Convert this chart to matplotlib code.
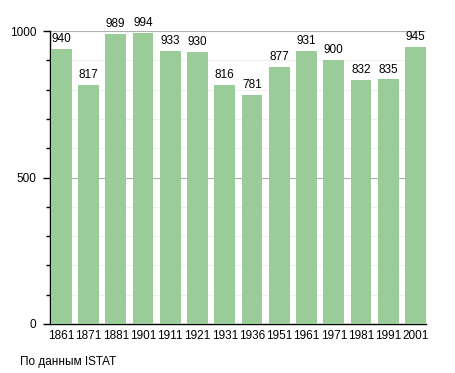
import matplotlib
matplotlib.use("Agg")
import matplotlib.pyplot as plt
from matplotlib.ticker import MultipleLocator

years = ["1861", "1871", "1881", "1901", "1911", "1921", "1931", "1936",
         "1951", "1961", "1971", "1981", "1991", "2001"]
population = [940, 817, 989, 994, 933, 930, 816, 781, 877, 931, 900, 832, 835, 945]
source_note = "По данным ISTAT"

plt.rcParams['font.family'] = ['Liberation Sans', 'DejaVu Sans']

fig = plt.figure(figsize=(4.55, 3.73), dpi=100)
ax = fig.add_axes([50/455, 49/373, 376/455, 293/373])

w = 0.76
x = list(range(len(years)))
bars = ax.bar(x, population, width=w, color='#99cc99', zorder=3)
for xi, v in zip(x, population):
    ax.text(xi, v + 13, str(v), ha='center', va='bottom', fontsize=8.5, zorder=4)

ax.set_xlim(-w/2 - 0.03, len(years) - 1 + w/2)
ax.set_ylim(0, 1000)
ax.set_xticks(x)
ax.set_xticklabels(years, fontsize=8.5)
ax.tick_params(axis='x', length=0, pad=4)
ax.yaxis.set_major_locator(MultipleLocator(500))
ax.yaxis.set_minor_locator(MultipleLocator(100))
ax.tick_params(axis='y', which='major', length=5, width=1, labelsize=8.5, pad=5)
ax.tick_params(axis='y', which='minor', length=3, width=1)
ax.grid(axis='y', which='major', color='#b0b0b0', linewidth=0.8, zorder=0)
ax.grid(axis='y', which='minor', color='#efefef', linewidth=0.8, zorder=0)
for s in ['top', 'right']:
    ax.spines[s].set_visible(False)
ax.spines['left'].set_linewidth(1)
ax.spines['bottom'].set_linewidth(1)
ax.set_axisbelow(True)

fig.text(20/455, 1 - 362/373, source_note, fontsize=8.5, ha='left', va='center')

fig.savefig("out.png", dpi=100)
